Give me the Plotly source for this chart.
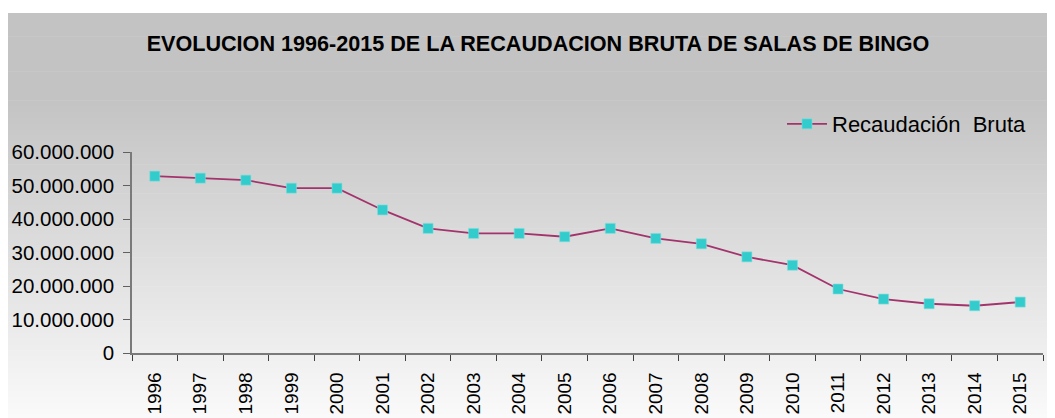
import plotly.graph_objects as go

years = [str(y) for y in range(1996, 2016)]
recaudacion = [52.8e6, 52.2e6, 51.6e6, 49.2e6, 49.2e6, 42.7e6, 37.2e6, 35.7e6, 35.7e6, 34.7e6,
               37.2e6, 34.2e6, 32.6e6, 28.7e6, 26.2e6, 19.1e6, 16.1e6, 14.7e6, 14.1e6, 15.2e6]
y_ticks = [0, 10e6, 20e6, 30e6, 40e6, 50e6, 60e6]

# page has an 8px body margin; work in page pixel coords and convert
OFF = 8
PAGE_W, PAGE_H = 1055, 418
W, H = PAGE_W - OFF, PAGE_H - OFF
plot_left, plot_right, plot_top, plot_bottom = 132, 1043, 152, 353  # page px
L = plot_left - OFF
R = W - (plot_right - OFF)
T = plot_top - OFF
B = H - (plot_bottom - OFF)
pw, ph = W - L - R, H - T - B

def px_x(x):
    return (x - OFF - L) / pw

def px_y(y):
    return (H - B - (y - OFF)) / ph

# gradient background bands
shapes = []
top, bottom = 13, PAGE_H + 2
n = 70
for i in range(n):
    y0 = top + (bottom - top) * i / n
    y1 = top + (bottom - top) * (i + 1) / n + 0.6
    ym = (y0 + y1) / 2
    if ym < 100:
        g = 195
    else:
        g = 195 + (ym - 100) / (418 - 100) * 55
    g = int(round(min(g, 250)))
    shapes.append(dict(type="rect", xref="paper", yref="paper",
                       x0=px_x(7), x1=px_x(PAGE_W + 5), y0=px_y(y1), y1=px_y(y0),
                       fillcolor=f"rgb({g},{g},{g})", line=dict(width=0), layer="below"))

fig = go.Figure()
fig.add_trace(go.Scatter(
    x=years, y=recaudacion, mode="lines+markers", name="Recaudación  Bruta",
    line=dict(color="#A3336C", width=1.8),
    marker=dict(symbol="square", size=10, color="#33CCCC",
                line=dict(color="#7FDDDD", width=0.6)),
))

fig.update_layout(
    width=W, height=H,
    margin=dict(l=L, r=R, t=T, b=B, autoexpand=False),
    paper_bgcolor="white",
    plot_bgcolor="rgba(0,0,0,0)",
    separators=",.",
    font=dict(family="Liberation Sans, Arial, sans-serif", color="black"),
    shapes=shapes,
    title=dict(text="<b>EVOLUCION 1996-2015 DE LA RECAUDACION BRUTA DE SALAS DE BINGO</b>",
               xref="container", yref="container", x=(538 - OFF) / W, y=1 - (43 - OFF) / H,
               xanchor="center", yanchor="middle",
               font=dict(size=21.6, color="black", family="Liberation Sans, Arial, sans-serif")),
    showlegend=True,
    legend=dict(x=px_x(782), y=px_y(124), xanchor="left", yanchor="middle",
                bgcolor="rgba(0,0,0,0)", font=dict(size=22), itemwidth=40),
    xaxis=dict(type="category", tickson="boundaries", ticks="outside", ticklen=6,
               tickcolor="#404040", tickwidth=1.3, showline=True, linecolor="#7a7a7a",
               linewidth=1.5, showgrid=False, tickangle=-90, tickfont=dict(size=19),
               ticklabelstandoff=10,
               range=[-0.5, 19.5], zeroline=False, automargin=False),
    yaxis=dict(range=[0, 60e6], tickvals=y_ticks, tickformat=",d", ticks="outside",
               ticklen=7, tickcolor="#606060", tickwidth=1.3, showline=True,
               linecolor="#7a7a7a", linewidth=1.5, showgrid=False, zeroline=False,
               tickfont=dict(size=20.5), ticklabelstandoff=5, automargin=False),
)

fig.write_html("out.html")
